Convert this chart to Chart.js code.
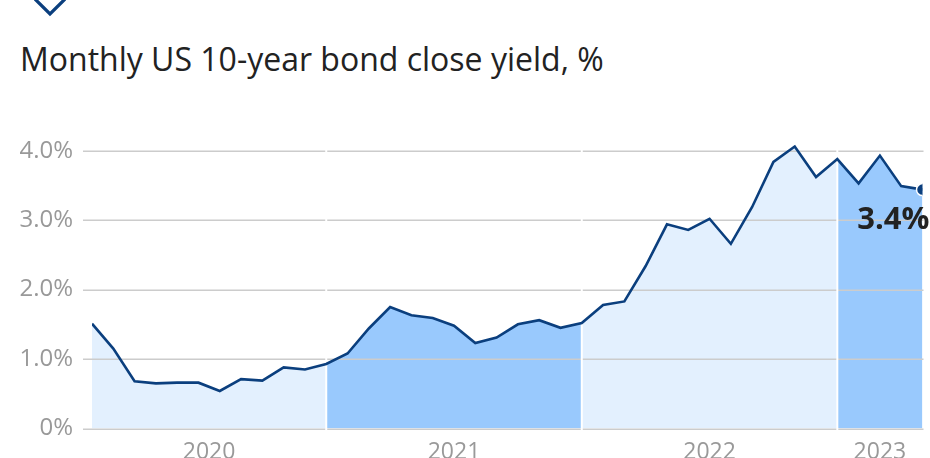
<!DOCTYPE html>
<html lang="en">
<head>
  <meta charset="UTF-8" />
  <title>US 10-year bond yield</title>
  <script src="https://cdn.jsdelivr.net/npm/chart.js"></script>
  <style>
    html, body { margin: 0; padding: 0; background: #fff; }
    #wrap { position: relative; width: 930px; height: 458px; overflow: hidden; }
    #chevron { position: absolute; left: 33px; top: -3px; }
    #titulo { position: absolute; left: 20px; top: 37px; margin: 0; font: 400 32px "Open Sans", sans-serif; color: #222; white-space: nowrap; }
    canvas { position: absolute; left: 0; top: 0; }
  </style>
</head>
<body>

<div id="wrap">
  <svg id="chevron" width="36" height="20" viewBox="0 0 36 20">
    <polyline points="2,2 17,17 32,2" fill="none" stroke="#0b3f7e" stroke-width="3.2" />
  </svg>
  <h1 id="titulo">Monthly US 10-year bond close yield, %</h1>
  <canvas id="grafYield" width="930" height="458"></canvas>
</div>

<script>
  // month-end closes, Jan 2020 .. Apr 2023
  const meses = [
    '2020-01','2020-02','2020-03','2020-04','2020-05','2020-06','2020-07','2020-08','2020-09','2020-10','2020-11','2020-12',
    '2021-01','2021-02','2021-03','2021-04','2021-05','2021-06','2021-07','2021-08','2021-09','2021-10','2021-11','2021-12',
    '2022-01','2022-02','2022-03','2022-04','2022-05','2022-06','2022-07','2022-08','2022-09','2022-10','2022-11','2022-12',
    '2023-01','2023-02','2023-03','2023-04'
  ];
  const yields = [
    1.51, 1.15, 0.68, 0.65, 0.66, 0.66, 0.54, 0.71, 0.69, 0.88, 0.85, 0.93,
    1.08, 1.44, 1.75, 1.63, 1.59, 1.48, 1.23, 1.31, 1.50, 1.56, 1.45, 1.52,
    1.78, 1.83, 2.34, 2.94, 2.86, 3.02, 2.66, 3.19, 3.84, 4.06, 3.62, 3.88,
    3.53, 3.93, 3.49, 3.44
  ];
  const yTicks = [0, 1, 2, 3, 4];
  const yTickLabels = ['0%', '1.0%', '2.0%', '3.0%', '4.0%'];
  const anos = ['2020', '2021', '2022', '2023'];

  const corLinha = '#0b3f7e';
  const corClara = '#e3f0fe';
  const corEscura = '#99c9fd';
  const corGrade = '#cccccc';

  const ultimo = yields.length - 1;
  const anoDe = i => meses[i].slice(0, 4);

  // each year's band runs from the previous December close to its own
  const faixas = anos.map(a => {
    const dezAnterior = meses.indexOf((+a - 1) + '-12');
    const dez = meses.indexOf(a + '-12');
    const ini = dezAnterior < 0 ? 0 : dezAnterior;
    const fim = dez < 0 ? ultimo : dez;
    return { ano: a, ini, fim, meio: (ini + fim) / 2 };
  });
  const divisas = faixas.slice(1).map(f => f.ini);

  const pontos = yields.map((v, i) => ({ x: i, y: v }));

  // grid + white year dividers go between the area and the line
  const gradePlugin = {
    id: 'grade',
    beforeDatasetDraw(chart, args) {
      if (args.index !== 1) return;
      const { ctx, chartArea, scales } = chart;
      ctx.save();
      ctx.strokeStyle = corGrade;
      ctx.lineWidth = 1.5;
      yTicks.forEach(t => {
        const y = Math.round(scales.y.getPixelForValue(t)) + 0.25;
        ctx.beginPath();
        ctx.moveTo(chartArea.left - 9, y);
        ctx.lineTo(chartArea.right + 1, y);
        ctx.stroke();
      });
      ctx.strokeStyle = '#ffffff';
      ctx.lineWidth = 2;
      divisas.forEach(i => {
        const x = scales.x.getPixelForValue(i);
        ctx.beginPath();
        ctx.moveTo(x, chartArea.top);
        ctx.lineTo(x, chartArea.bottom + 2);
        ctx.stroke();
      });
      ctx.restore();
    },
    afterDatasetsDraw(chart) {
      const p = chart.getDatasetMeta(1).data[ultimo];
      const { ctx } = chart;
      ctx.save();
      ctx.font = 'bold 31px "Open Sans", sans-serif';
      ctx.fillStyle = '#222';
      ctx.textAlign = 'right';
      ctx.textBaseline = 'alphabetic';
      ctx.fillText(yields[ultimo].toFixed(1) + '%', p.x + 7, p.y + 39);
      ctx.restore();
    }
  };

  new Chart(document.getElementById('grafYield').getContext('2d'), {
    type: 'line',
    data: {
      datasets: [
        {
          // area only
          data: pontos,
          borderWidth: 0,
          pointRadius: 0,
          fill: 'origin',
          backgroundColor: corClara,
          segment: {
            backgroundColor: c => (+anoDe(c.p1DataIndex) % 2 === 1 ? corEscura : corClara)
          },
          order: 2
        },
        {
          data: pontos,
          borderColor: corLinha,
          borderWidth: 2.6,
          fill: false,
          tension: 0,
          pointRadius: c => (c.dataIndex === ultimo ? 6 : 0),
          pointBackgroundColor: corLinha,
          pointBorderColor: '#ffffff',
          pointBorderWidth: 1.5,
          pointHoverRadius: 0,
          order: 1
        }
      ]
    },
    options: {
      responsive: false,
      animation: false,
      events: [],
      layout: { padding: { top: 116, right: 5, left: 0, bottom: 0 } },
      plugins: { legend: { display: false }, tooltip: { enabled: false } },
      scales: {
        x: {
          type: 'linear',
          min: 0,
          max: ultimo,
          grid: { display: false, drawTicks: false },
          border: { display: false },
          afterBuildTicks: s => { s.ticks = faixas.map(f => ({ value: f.meio })); },
          afterFit: s => { s.height = 29.5; },
          ticks: {
            padding: 10,
            color: '#999',
            font: { family: 'Open Sans', size: 23 },
            maxRotation: 0,
            autoSkip: false,
            callback: v => (faixas.find(f => f.meio === v) || {}).ano
          }
        },
        y: {
          min: 0,
          max: 4.5,
          grid: { display: false },
          border: { display: false },
          afterBuildTicks: s => { s.ticks = yTicks.map(v => ({ value: v })); },
          afterFit: s => { s.width = 92; },
          ticks: {
            padding: 11,
            color: '#999',
            font: { family: 'Open Sans', size: 24 },
            callback: v => yTickLabels[yTicks.indexOf(v)]
          }
        }
      }
    },
    plugins: [gradePlugin]
  });
</script>

</body>
</html>
